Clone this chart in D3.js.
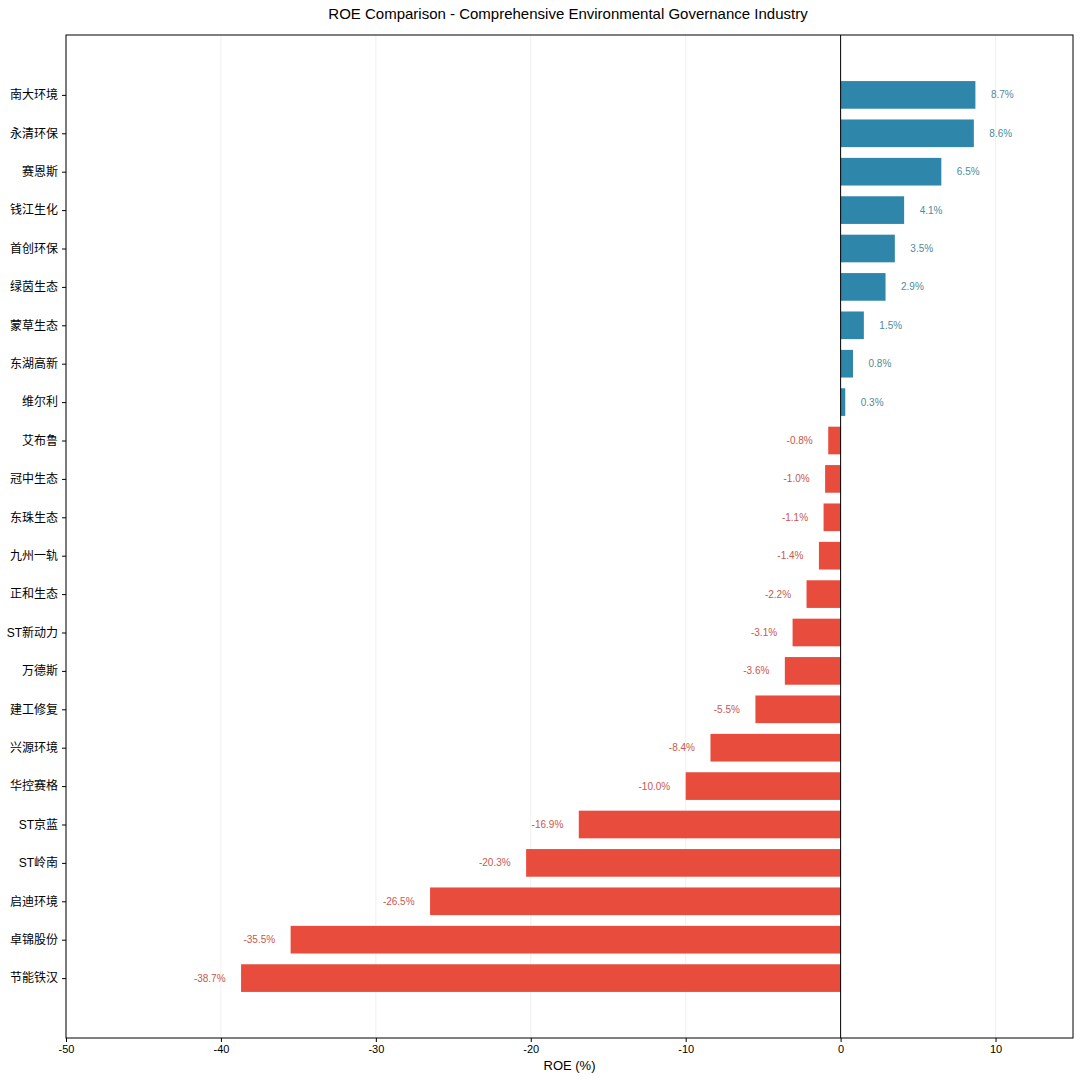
<!DOCTYPE html>
<html>
<head>
<meta charset="utf-8">
<script src="https://cdn.jsdelivr.net/npm/d3@7"></script>
<style>
  body { margin: 0; background: #fff; }
  svg { font-family: "Liberation Sans", Arial, "Noto Sans CJK SC", sans-serif; }
</style>
</head>
<body>
<svg id="chart" width="1080" height="1080"></svg>
<script>
const companies = ["南大环境", "永清环保", "赛恩斯", "钱江生化", "首创环保", "绿茵生态", "蒙草生态", "东湖高新",
    "维尔利", "艾布鲁", "冠中生态", "东珠生态", "九州一轨", "正和生态", "ST新动力", "万德斯",
    "建工修复", "兴源环境", "华控赛格", "ST京蓝", "ST岭南", "启迪环境", "卓锦股份", "节能铁汉"]
const roe = [8.7, 8.6, 6.5, 4.1, 3.5, 2.9, 1.5, 0.8,
    0.3, -0.8, -1.0, -1.1, -1.4, -2.2, -3.1, -3.6,
    -5.5, -8.4, -10.0, -16.9, -20.3, -26.5, -35.5, -38.7]
const xTicks = [-50, -40, -30, -20, -10, 0, 10]

const POS_COLOR = "#2E86AB", NEG_COLOR = "#E74C3C"
const POS_TEXT = "#4f8a9c", NEG_TEXT = "#c8574c"
const margins = { top: 35, bottom: 42, left: 66, right: 7 }

const svg = d3.select("#chart")
const width = 1080 - margins.left - margins.right
const height = 1080 - margins.top - margins.bottom

const x = d3.scaleLinear().domain([-50, 15]).range([0, width])
// matplotlib-like y axis: index 0 at top, padding ~1.56 units each side
const pad = 1.56
const y = d3.scaleLinear().domain([-pad, companies.length - 1 + pad]).range([0, height])
const BAR_H = 0.72

const g = svg.append("g").attr("transform", "translate(" + margins.left + "," + margins.top + ")")

// grid
g.selectAll(".grid").data(xTicks).enter().append("line")
    .attr("x1", d => x(d)).attr("x2", d => x(d))
    .attr("y1", 0).attr("y2", height)
    .attr("stroke", "#ececec").attr("stroke-width", 0.8)

// bars
g.selectAll(".bar").data(roe).enter().append("rect")
    .attr("x", d => x(Math.min(0, d)))
    .attr("y", (d, i) => y(i - BAR_H / 2))
    .attr("width", d => Math.abs(x(d) - x(0)))
    .attr("height", y(BAR_H) - y(0))
    .attr("fill", d => d >= 0 ? POS_COLOR : NEG_COLOR)

// value labels
g.selectAll(".val").data(roe).enter().append("text")
    .attr("x", d => d >= 0 ? x(d + 1) : x(d - 1))
    .attr("y", (d, i) => y(i))
    .attr("dy", "0.35em")
    .attr("text-anchor", d => d >= 0 ? "start" : "end")
    .attr("font-size", "10px")
    .attr("fill", d => d >= 0 ? POS_TEXT : NEG_TEXT)
    .text(d => d.toFixed(1) + "%")

// zero line
g.append("line")
    .attr("x1", x(0)).attr("x2", x(0))
    .attr("y1", 0).attr("y2", height)
    .attr("stroke", "#000").attr("stroke-width", 1)

// axes
const xAxis = d3.axisBottom(x).tickValues(xTicks).tickSize(4).tickPadding(3).tickFormat(d => d)
g.append("g")
    .attr("transform", "translate(0," + height + ")")
    .call(xAxis)
    .call(a => a.select(".domain").remove())
    .attr("font-size", "11px")
    .attr("font-family", "Liberation Sans, Arial, sans-serif")

const yAxis = d3.axisLeft(y).tickValues(d3.range(companies.length)).tickSize(4).tickPadding(4)
    .tickFormat(i => companies[i])
g.append("g")
    .call(yAxis)
    .call(a => a.select(".domain").remove())
    .attr("font-size", "12px")
    .attr("font-family", "Liberation Sans, Arial, Noto Sans CJK SC, sans-serif")

// frame
g.append("rect")
    .attr("x", 0).attr("y", 0).attr("width", width).attr("height", height)
    .attr("fill", "none").attr("stroke", "#000").attr("stroke-width", 1)

// titles
svg.append("text")
    .attr("x", 1080 / 2 + 28).attr("y", 19)
    .attr("text-anchor", "middle")
    .attr("font-size", "15px")
    .text("ROE Comparison - Comprehensive Environmental Governance Industry")

svg.append("text")
    .attr("x", margins.left + width / 2).attr("y", 1070)
    .attr("text-anchor", "middle")
    .attr("font-size", "13px")
    .text("ROE (%)")
</script>
</body>
</html>
